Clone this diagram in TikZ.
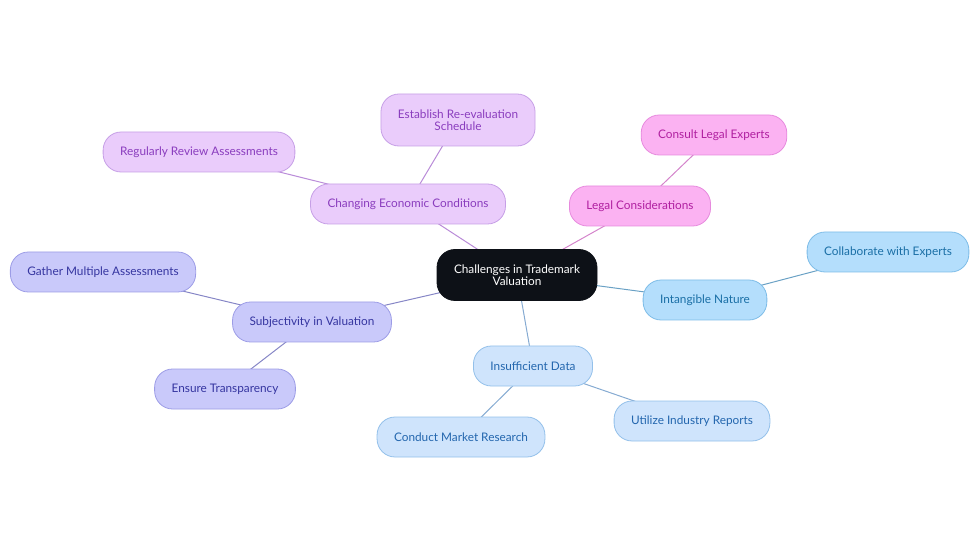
\documentclass[tikz,border=0pt]{standalone}
\usepackage{fontspec}
\setmainfont{Lato}
\usepackage{xcolor}
\usetikzlibrary{backgrounds}

\definecolor{purpfill}{HTML}{EACCFB}
\definecolor{purpline}{HTML}{C69FE6}
\definecolor{purptext}{HTML}{8A3DBE}
\definecolor{pinkfill}{HTML}{FBB2F2}
\definecolor{pinkline}{HTML}{E68ADD}
\definecolor{pinktext}{HTML}{B01FA0}
\definecolor{skyfill}{HTML}{B4DEFC}
\definecolor{skyline}{HTML}{7DBCE7}
\definecolor{skytext}{HTML}{1A6FA6}
\definecolor{bluefill}{HTML}{CFE4FC}
\definecolor{blueline}{HTML}{93C0EA}
\definecolor{bluetext}{HTML}{2366AE}
\definecolor{lavfill}{HTML}{C9C9FA}
\definecolor{lavline}{HTML}{9C9CE6}
\definecolor{lavtext}{HTML}{3535A0}
\definecolor{rootfill}{HTML}{0D1117}

\tikzset{
  box/.style={draw, line width=0.8pt, rounded corners=18pt, minimum height=40pt,
    inner xsep=17pt, align=center, font=\fontsize{11.8}{12.5}\selectfont},
  root/.style={box, fill=rootfill, draw=rootfill, text=white, minimum height=51pt},
  purp/.style={box, fill=purpfill, draw=purpline, text=purptext},
  pink/.style={box, fill=pinkfill, draw=pinkline, text=pinktext},
  sky/.style={box, fill=skyfill, draw=skyline, text=skytext},
  blue/.style={box, fill=bluefill, draw=blueline, text=bluetext},
  lav/.style={box, fill=lavfill, draw=lavline, text=lavtext},
  link/.style={line width=1pt}
}

\begin{document}
\begin{tikzpicture}[x=1pt, y=-1pt]
  \useasboundingbox (0,0) rectangle (980,553);

  \node[root] (challenges) at (517,275) {Challenges in Trademark\\Valuation};

  \node[purp] (economic) at (408,204) {Changing Economic Conditions};
  \node[purp, minimum height=52pt] (schedule) at (458,120) {Establish Re-evaluation\\Schedule};
  \node[purp] (review) at (199,152) {Regularly Review Assessments};

  \node[pink] (legal) at (640,206) {Legal Considerations};
  \node[pink] (consult) at (714,135) {Consult Legal Experts};

  \node[sky] (intangible) at (705,300) {Intangible Nature};
  \node[sky] (collab) at (888,252) {Collaborate with Experts};

  \node[blue] (data) at (533,366) {Insufficient Data};
  \node[blue] (reports) at (692,421) {Utilize Industry Reports};
  \node[blue] (research) at (461,437) {Conduct Market Research};

  \node[lav] (subjective) at (312,322) {Subjectivity in Valuation};
  \node[lav] (gather) at (103,272) {Gather Multiple Assessments};
  \node[lav] (transparency) at (225,389) {Ensure Transparency};

  \begin{scope}[on background layer]
    \draw[link, purptext!60] (challenges.center) -- (economic.center);
    \draw[link, purptext!60] (economic.center) -- (schedule.center);
    \draw[link, purptext!60] (economic.center) -- (review.center);
    \draw[link, pinktext!55] (challenges.center) -- (legal.center);
    \draw[link, pinktext!55] (legal.center) -- (consult.center);
    \draw[link, skytext!65] (challenges.center) -- (intangible.center);
    \draw[link, skytext!65] (intangible.center) -- (collab.center);
    \draw[link, bluetext!55] (challenges.center) -- (data.center);
    \draw[link, bluetext!55] (data.center) -- (reports.center);
    \draw[link, bluetext!55] (data.center) -- (research.center);
    \draw[link, lavtext!60] (challenges.center) -- (subjective.center);
    \draw[link, lavtext!60] (subjective.center) -- (gather.center);
    \draw[link, lavtext!60] (subjective.center) -- (transparency.center);
  \end{scope}
\end{tikzpicture}
\end{document}
